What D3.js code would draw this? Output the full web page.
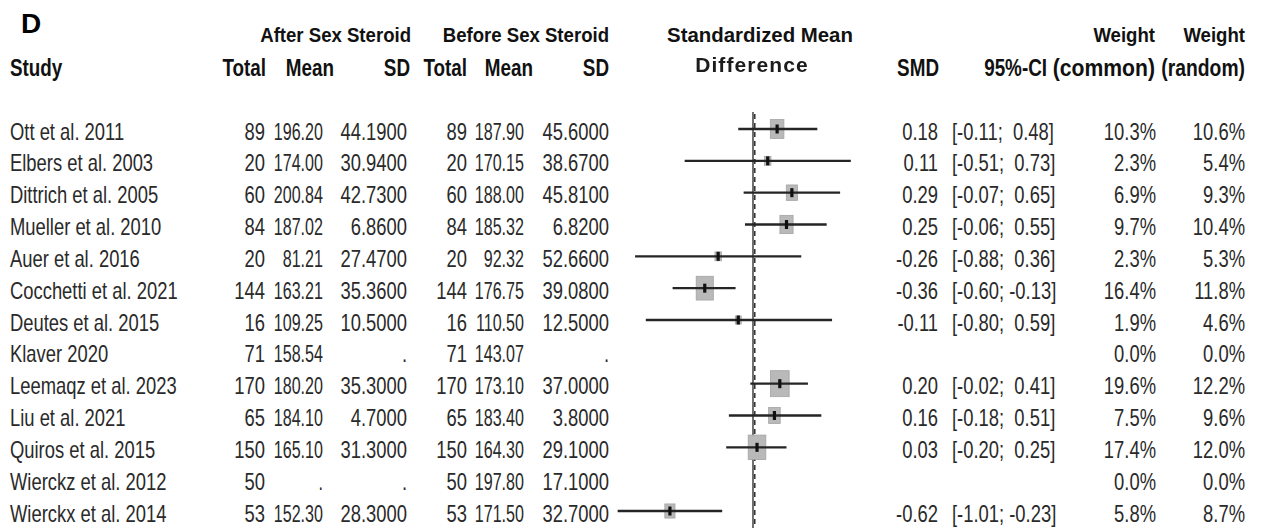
<!DOCTYPE html>
<html>
<head>
<meta charset="utf-8">
<script src="https://cdn.jsdelivr.net/npm/d3@7"></script>
<style>
  html, body { margin: 0; padding: 0; background: #fff; }
  svg { display: block; }
  text { font-family: "Liberation Sans", Arial, Helvetica, sans-serif; white-space: pre; }
</style>
</head>
<body>
<svg id="chart" width="1263" height="528"></svg>
<script>
// Study-level data for the forest plot
const studies = [
  "Ott et al. 2011", "Elbers et al. 2003", "Dittrich et al. 2005", "Mueller et al. 2010",
  "Auer et al. 2016", "Cocchetti et al. 2021", "Deutes et al. 2015", "Klaver 2020",
  "Leemaqz et al. 2023", "Liu et al. 2021", "Quiros et al. 2015", "Wierckz et al. 2012",
  "Wierckx et al. 2014"
];
const afterTotal  = [89, 20, 60, 84, 20, 144, 16, 71, 170, 65, 150, 50, 53];
const afterMean   = [196.20, 174.00, 200.84, 187.02, 81.21, 163.21, 109.25, 158.54, 180.20, 184.10, 165.10, null, 152.30];
const afterSD     = [44.19, 30.94, 42.73, 6.86, 27.47, 35.36, 10.50, null, 35.30, 4.70, 31.30, null, 28.30];
const beforeTotal = [89, 20, 60, 84, 20, 144, 16, 71, 170, 65, 150, 50, 53];
const beforeMean  = [187.90, 170.15, 188.00, 185.32, 92.32, 176.75, 110.50, 143.07, 173.10, 183.40, 164.30, 197.80, 171.50];
const beforeSD    = [45.60, 38.67, 45.81, 6.82, 52.66, 39.08, 12.50, null, 37.00, 3.80, 29.10, 17.10, 32.70];
const smd         = [0.18, 0.11, 0.29, 0.25, -0.26, -0.36, -0.11, null, 0.20, 0.16, 0.03, null, -0.62];
const ciLower     = [-0.11, -0.51, -0.07, -0.06, -0.88, -0.60, -0.80, null, -0.02, -0.18, -0.20, null, -1.01];
const ciUpper     = [0.48, 0.73, 0.65, 0.55, 0.36, -0.13, 0.59, null, 0.41, 0.51, 0.25, null, -0.23];
const weightCommon = [10.3, 2.3, 6.9, 9.7, 2.3, 16.4, 1.9, 0.0, 19.6, 7.5, 17.4, 0.0, 5.8];
const weightRandom = [10.6, 5.4, 9.3, 10.4, 5.3, 11.8, 4.6, 0.0, 12.2, 9.6, 12.0, 0.0, 8.7];

const rows = studies.map((s, i) => ({
  study: s,
  nA: afterTotal[i], mA: afterMean[i], sdA: afterSD[i],
  nB: beforeTotal[i], mB: beforeMean[i], sdB: beforeSD[i],
  smd: smd[i], lo: ciLower[i], hi: ciUpper[i],
  wC: weightCommon[i], wR: weightRandom[i]
}));

const svg = d3.select("#chart");

// Scales
const x = d3.scaleLinear().domain([-1, 1]).range([619, 887]);
const y = d3.scalePoint().domain(studies).range([129, 511]);
const boxH = d3.scaleSqrt().domain([0, 19.6]).range([0, 26]);

// plain ASCII hyphen for negatives
const loc = d3.formatLocale({ decimal: ".", thousands: ",", grouping: [3], currency: ["", ""], minus: "-" });
const f2 = loc.format(".2f"), f4 = loc.format(".4f"), f1 = loc.format(".1f");
const fmt = (v, f) => v == null ? "." : f(v);

// Condensed text helper: horizontal squeeze around the anchor point
function label(g, tx, ty, s, o = {}) {
  const sx = o.sx ?? 0.8;
  return g.append("text")
    .attr("transform", `translate(${tx},${ty}) scale(${sx},1)`)
    .attr("text-anchor", o.anchor ?? "end")
    .attr("font-size", o.size ?? 23)
    .attr("font-weight", o.bold ? "bold" : "normal")
    .attr("fill", o.fill ?? "#1e1e1e")
    .text(s);
}

// Blur used for the soft "Difference" caption
const defs = svg.append("defs");
defs.append("filter").attr("id", "soft")
  .append("feGaussianBlur").attr("stdDeviation", 0.5);

const head = svg.append("g");
label(head, 21, 33, "D", { anchor: "start", size: 28, bold: true, sx: 1, fill: "#000" });

// Header line 1
const h1 = { size: 20, bold: true, sx: 0.93, fill: "#111" };
label(head, 411, 42, "After Sex Steroid", h1);
label(head, 609, 42, "Before Sex Steroid", h1);
label(head, 760, 42, "Standardized Mean", { ...h1, anchor: "middle", sx: 1.02 });
label(head, 1155, 42, "Weight", h1);
label(head, 1245, 42, "Weight", h1);

// Header line 2
const h2 = { size: 23, bold: true, sx: 0.82, fill: "#111" };
label(head, 10, 76, "Study", { ...h2, anchor: "start" });
label(head, 266, 76, "Total", h2);
label(head, 334, 76, "Mean", h2);
label(head, 410, 76, "SD", h2);
label(head, 467, 76, "Total", h2);
label(head, 533, 76, "Mean", h2);
label(head, 609, 76, "SD", h2);
label(head, 752, 72, "Difference", { size: 21, bold: true, sx: 1, anchor: "middle", fill: "#1a1a1a" })
  .attr("letter-spacing", 1.1).attr("filter", "url(#soft)");
label(head, 939, 76, "SMD", h2);
label(head, 1047, 76, "95%-CI", h2);
label(head, 1155, 76, "(common)", { ...h2, sx: 0.92 });
label(head, 1245, 76, "(random)", { ...h2, sx: 0.84 });

// Table body
const body = svg.append("g");
const cols = [
  { x: 10,   anchor: "start", v: d => d.study },
  { x: 265,  v: d => String(d.nA) },
  { x: 323,  sx: 0.7, v: d => fmt(d.mA, f2) },
  { x: 407,  v: d => fmt(d.sdA, f4) },
  { x: 467,  v: d => String(d.nB) },
  { x: 524,  sx: 0.7, v: d => fmt(d.mB, f2) },
  { x: 609,  v: d => fmt(d.sdB, f4) },
  { x: 938,  v: d => d.smd == null ? "" : f2(d.smd) },
  { x: 952,  anchor: "start", v: d => d.lo == null ? "" : `[${f2(d.lo)};${d.hi < 0 ? " " : "  "}${f2(d.hi)}]` },
  { x: 1156, v: d => f1(d.wC) + "%" },
  { x: 1245, v: d => f1(d.wR) + "%" }
];
rows.forEach(d => {
  const by = y(d.study) + 10.5;
  cols.forEach(c => {
    const s = c.v(d);
    if (s) label(body, c.x, by, s, { anchor: c.anchor ?? "end", sx: c.sx ?? 0.8, fill: "#2a2a2a" });
  });
});

// Forest plot
const plot = svg.append("g");
// reference line at zero: solid rule with dashed companion
plot.append("line")
  .attr("x1", x(0)).attr("x2", x(0)).attr("y1", 112).attr("y2", 528)
  .attr("stroke", "#222").attr("stroke-width", 1.3);
plot.append("line")
  .attr("x1", x(0) + 1.8).attr("x2", x(0) + 1.8).attr("y1", 114).attr("y2", 528)
  .attr("stroke", "#222").attr("stroke-width", 1.4).attr("stroke-dasharray", "5,4");

const est = rows.filter(d => d.smd != null);

// weight boxes (area proportional to common-effect weight)
plot.selectAll("rect.box").data(est).join("rect")
  .attr("class", "box")
  .attr("x", d => x(d.smd) - boxH(d.wC) * 0.36)
  .attr("y", d => y(d.study) - boxH(d.wC) / 2)
  .attr("width", d => boxH(d.wC) * 0.72)
  .attr("height", d => boxH(d.wC))
  .attr("fill", "#b9b9b9").attr("stroke", "#a4a4a4").attr("stroke-width", 0.8);

// confidence intervals
plot.selectAll("line.ci").data(est).join("line")
  .attr("class", "ci")
  .attr("x1", d => x(d.lo)).attr("x2", d => x(d.hi))
  .attr("y1", d => y(d.study)).attr("y2", d => y(d.study))
  .attr("stroke", "#252525").attr("stroke-width", 2.3);

// point estimate marks
plot.selectAll("rect.pt").data(est).join("rect")
  .attr("class", "pt")
  .attr("x", d => x(d.smd) - 1.6)
  .attr("y", d => y(d.study) - 4.5)
  .attr("width", 3.2).attr("height", 9)
  .attr("fill", "#111");
</script>
</body>
</html>
